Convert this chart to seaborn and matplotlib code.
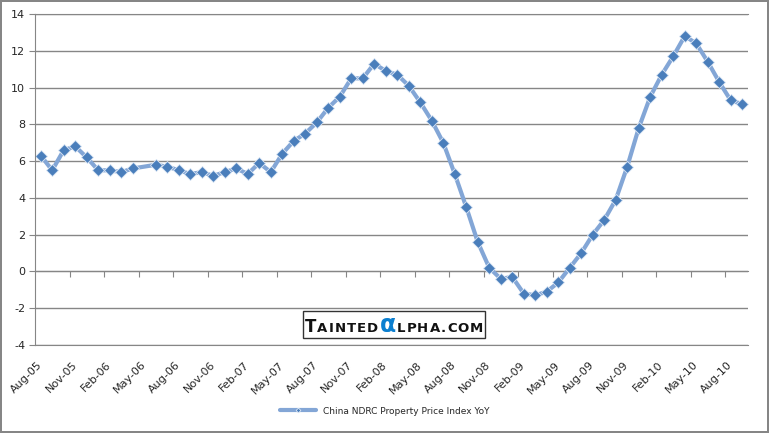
import numpy as np
import pandas as pd
import seaborn as sns
import matplotlib.pyplot as plt
from matplotlib.offsetbox import TextArea, HPacker, AnchoredOffsetbox

# monthly YoY % change, Aug-05 .. Sep-10 (May-06 not reported)
months = pd.date_range('2005-08-01', '2010-09-01', freq='MS')
yoy = [6.3, 5.5, 6.6, 6.8, 6.2, 5.5, 5.5, 5.4, 5.6, None,
       5.8, 5.7, 5.5, 5.3, 5.4, 5.2, 5.4, 5.6, 5.3, 5.9,
       5.4, 6.4, 7.1, 7.5, 8.1, 8.9, 9.5, 10.5, 10.5, 11.3,
       10.9, 10.7, 10.1, 9.2, 8.2, 7.0, 5.3, 3.5, 1.6, 0.2,
       -0.4, -0.3, -1.2, -1.3, -1.1, -0.6, 0.2, 1.0, 2.0, 2.8,
       3.9, 5.7, 7.8, 9.5, 10.7, 11.7, 12.8, 12.4, 11.4, 10.3,
       9.3, 9.1]
series_name = 'China NDRC Property Price Index YoY'
y_ticks = [-4, -2, 0, 2, 4, 6, 8, 10, 12, 14]

df = pd.DataFrame({'month': months, 'yoy': yoy}).dropna()
df['idx'] = (df['month'].dt.year - 2005) * 12 + df['month'].dt.month - 8
n_months = len(months)

sns.set_style('white')
plt.rcParams['font.family'] = ['DejaVu Sans']
plt.rcParams['axes.unicode_minus'] = False

grid_col = '#868686'
fig = plt.figure(figsize=(7.69, 4.33), dpi=100)
fig.patch.set_edgecolor(grid_col)
fig.patch.set_linewidth(1.5)
ax = fig.add_axes([35 / 769, 1 - 345 / 433, 713 / 769, 331 / 433])

sns.lineplot(data=df, x='idx', y='yoy', ax=ax, color='#83a6d6', linewidth=3,
             marker='D', markersize=6, markerfacecolor='#4a7ebb',
             markeredgecolor='#dbe6f4', markeredgewidth=0.6, label=series_name)

ax.set_xlim(-0.5, n_months - 0.5)
ax.set_ylim(-4, 14)
ax.set_yticks(y_ticks)
ax.yaxis.grid(True, color=grid_col, linewidth=1)
ax.xaxis.grid(False)
ax.tick_params(axis='y', length=4, direction='out', color=grid_col, labelsize=8, pad=3, left=True)

# date labels every three months, drawn at the bottom
lab_idx = list(range(0, n_months, 3))[:21]
ax.set_xticks(lab_idx)
ax.set_xticklabels([f'{months[i]:%b-%y}' for i in lab_idx], rotation=45,
                   rotation_mode='anchor', ha='right', va='center', fontsize=8)
ax.tick_params(axis='x', length=0, pad=13)
ax.set_xlabel('')
ax.set_ylabel('')

for side in ['left', 'top', 'bottom']:
    ax.spines[side].set_color(grid_col)
ax.spines['right'].set_visible(False)

# horizontal axis line crossing at zero with tick marks between categories
zero_ax = ax.secondary_xaxis(4 / 18)
zero_ax.set_xticks(np.arange(2.5, n_months, 3))
zero_ax.set_xticklabels([])
zero_ax.tick_params(length=4, direction='out', color=grid_col)
zero_ax.spines['bottom'].set_color(grid_col)

leg = ax.legend(loc='center', bbox_to_anchor=(0.5, 1 - 411 / 433), bbox_transform=fig.transFigure,
                frameon=False, fontsize=6.5, handlelength=4, markerscale=0.4)

# watermark
parts = []
for ch in 'TAINTEDαLPHA.COM':
    if ch == 'α':
        parts.append(TextArea(ch, textprops=dict(color='#0b7fd0', fontsize=17, fontweight='bold')))
    elif ch == 'T' and not parts:
        parts.append(TextArea(ch, textprops=dict(color='#111111', fontsize=12, fontweight='bold')))
    else:
        parts.append(TextArea(ch, textprops=dict(color='#111111', fontsize=9.5, fontweight='bold')))
pack = HPacker(children=parts, align='baseline', pad=0, sep=0.8)
wm = AnchoredOffsetbox(loc='center', child=pack, pad=0.12, borderpad=0, frameon=True,
                       bbox_to_anchor=(394 / 769, 1 - 324.5 / 433), bbox_transform=fig.transFigure)
wm.patch.set_edgecolor('#333333')
wm.patch.set_linewidth(1)
fig.add_artist(wm)

fig.savefig('out.png', dpi=100, edgecolor=fig.patch.get_edgecolor(), facecolor='white')
